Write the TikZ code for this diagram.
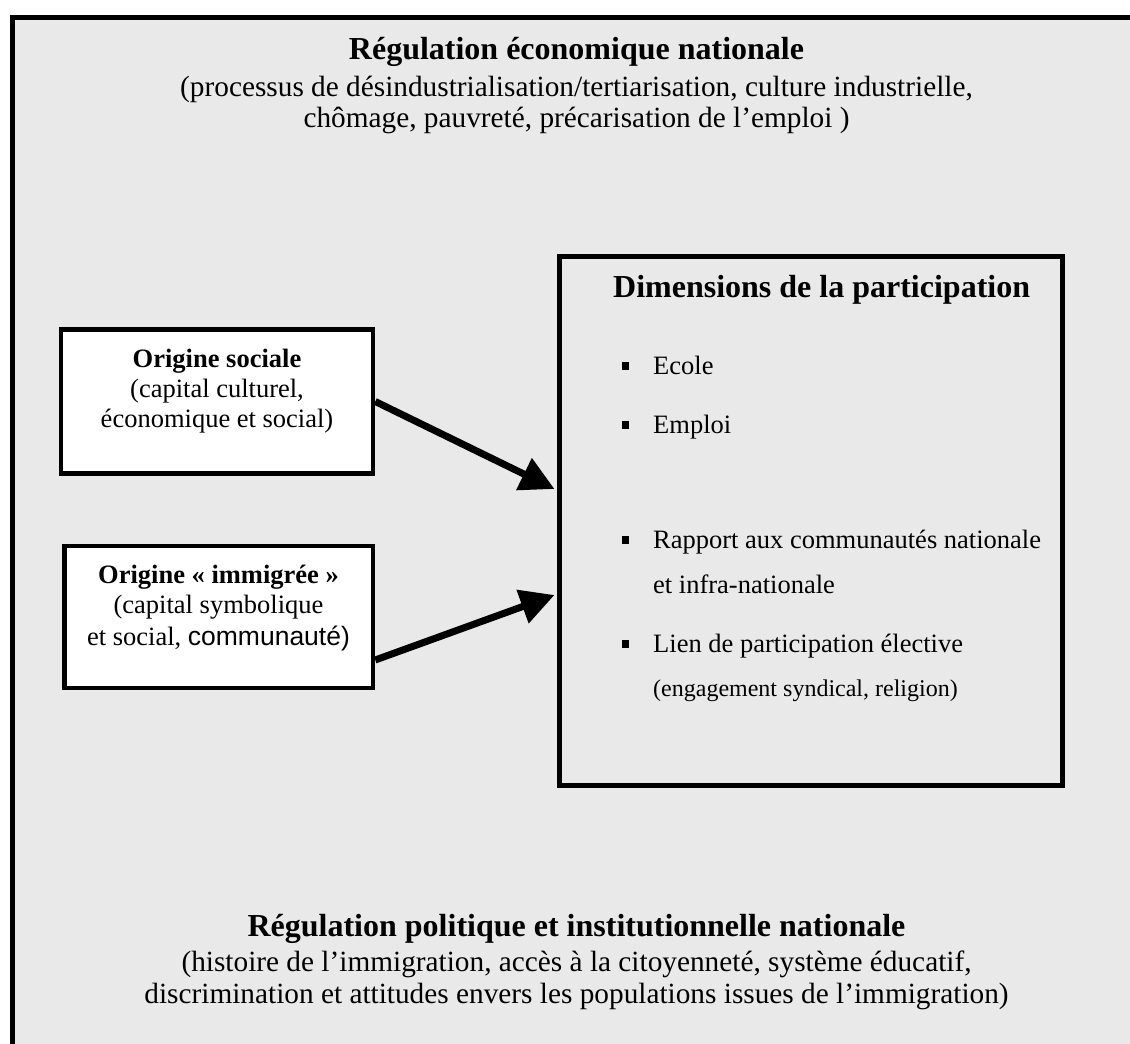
\documentclass[tikz,border=0pt]{standalone}
\usepackage{fontspec}
\setmainfont{Liberation Serif}
\newfontfamily\arialfont{Liberation Sans}
\usetikzlibrary{arrows.meta}
\definecolor{bg}{RGB}{233,233,233}
\begin{document}
\begin{tikzpicture}[x=1pt,y=-1pt,
  box/.style={draw=black, line width=4.5pt, fill=white, inner sep=0pt},
  rbox/.style={draw=black, line width=5pt, inner sep=0pt},
  big/.style={inner sep=0pt, anchor=base, font=\fontsize{29.3}{31}\selectfont},
  bigtitle/.style={inner sep=0pt, anchor=base, font=\bfseries\fontsize{32}{34}\selectfont},
  btxt/.style={inner sep=0pt, anchor=base, font=\fontsize{26.5}{28}\selectfont},
  btitle/.style={inner sep=0pt, anchor=base, font=\bfseries\fontsize{26.5}{28}\selectfont},
  itxt/.style={inner sep=0pt, anchor=base west, font=\fontsize{26.5}{28}\selectfont},
  bul/.style={fill=black, inner sep=0pt, minimum size=7.3pt},
  arr/.style={line width=7pt, -{Triangle[length=34pt, width=34pt]}}]
\useasboundingbox (0,0) rectangle (1130,1044);
\clip (0,0) rectangle (1130,1044);
\fill[white] (0,0) rectangle (1130,1044);
\fill[bg] (12.75,17.5) rectangle (1150,1070);
\draw[line width=5pt] (12.75,1070) -- (12.75,17.5) -- (1150,17.5);

% top text
\node[bigtitle] (t1) at (576.5,59) {Régulation économique nationale};
\node[big] (t2) at (576.5,96) {(processus de désindustrialisation/tertiarisation, culture industrielle,};
\node[big] (t3) at (576.5,127) {chômage, pauvreté, précarisation de l’emploi )};

% bottom text
\node[bigtitle] (u1) at (576.5,936) {Régulation politique et institutionnelle nationale};
\node[big] (u2) at (576.5,971) {(histoire de l’immigration, accès à la citoyenneté, système éducatif,};
\node[big] (u3) at (576.5,1003) {discrimination et attitudes envers les populations issues de l’immigration)};

% right box
\node[rbox, minimum width=502.5pt, minimum height=529pt] (rb) at (810.75,521) {};
\node[inner sep=0pt, anchor=base west, font=\bfseries\fontsize{32}{34}\selectfont] (rt) at (613,297) {Dimensions de la participation};
\node[bul] (k1) at (625.3,366) {};
\node[itxt] (i1) at (653,374) {Ecole};
\node[bul] (k2) at (625.3,425) {};
\node[itxt] (i2) at (653,433) {Emploi};
\node[bul] (k3) at (625.3,540) {};
\node[itxt] (i3) at (653,548) {Rapport aux communautés nationale};
\node[itxt] (i3b) at (653,593) {et infra-nationale};
\node[bul] (k4) at (625.3,644) {};
\node[itxt] (i4) at (653,652) {Lien de participation élective};
\node[inner sep=0pt, anchor=base west, font=\fontsize{24}{26}\selectfont] (i4b) at (653,696) {(engagement syndical, religion)};

% left boxes
\node[box, minimum width=312pt, minimum height=144pt] (b1) at (217,401.5) {};
\node[btitle] (b1a) at (217,367) {Origine sociale};
\node[btxt] (b1b) at (217,397) {(capital culturel,};
\node[btxt] (b1c) at (217,427) {économique et social)};

\node[box, minimum width=308.3pt, minimum height=142pt] (b2) at (218.85,617) {};
\node[btitle] (b2a) at (218.5,583.3) {Origine « immigrée »};
\node[btxt] (b2b) at (218.5,613.3) {(capital symbolique};
\node[btxt] (b2c) at (218.5,645) {et social, {\arialfont communauté)}};

% arrows
\coordinate (a1e) at (rb.west |- 0,489);
\coordinate (a2s) at (b2.east |- 0,660);
\coordinate (a2e) at (rb.west |- 0,595);
\draw[arr] (b1.east) -- ([xshift=-2.5pt]a1e);
\draw[arr] (a2s) -- ([xshift=-2.5pt]a2e);
\end{tikzpicture}
\end{document}
